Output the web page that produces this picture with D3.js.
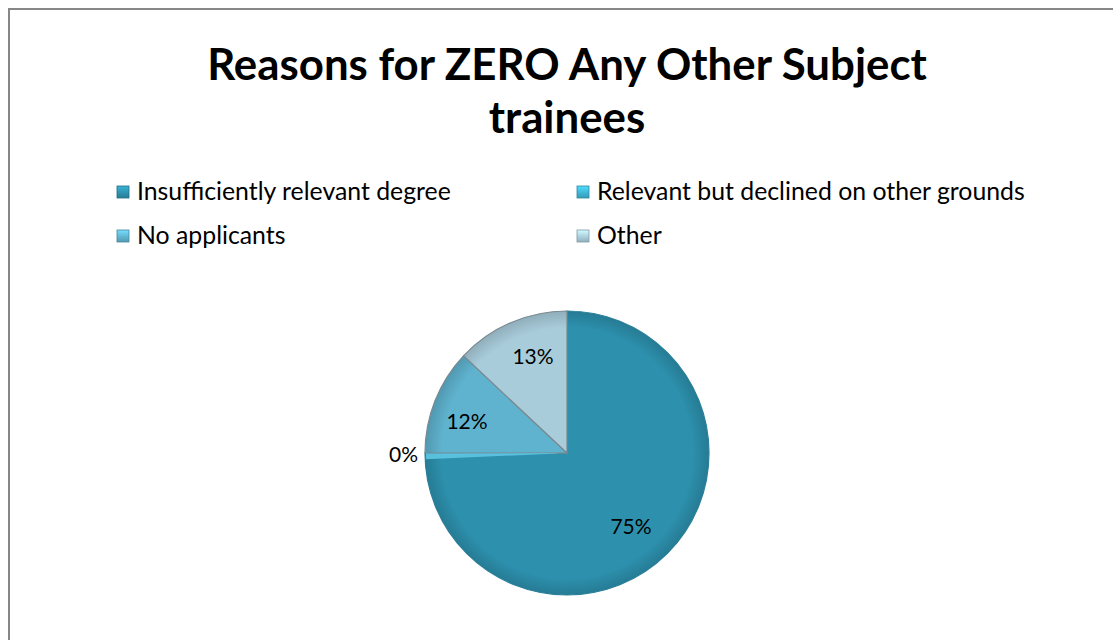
<!DOCTYPE html>
<html><head><meta charset="utf-8">
<script src="https://cdn.jsdelivr.net/npm/d3@7"></script>
<style>html,body{margin:0;padding:0;background:#fff;overflow:hidden}</style>
</head><body>
<script>
const categories = ["Insufficiently relevant degree","Relevant but declined on other grounds","No applicants","Other"];
const values = [75, 0, 12, 13];
const colors = ["#2d91ae","#3fb3d3","#5fb3cf","#a9ccdb"];
const titleLines = ["Reasons for ZERO Any Other Subject","trainees"];

const W=1113,H=640;
const svg=d3.select("body").append("svg").attr("width",W).attr("height",H);
const font="Lato, 'Open Sans', sans-serif";
// frame
svg.append("rect").attr("x",9).attr("y",9).attr("width",W+20).attr("height",H+20)
  .attr("fill","#fff").attr("stroke","#878787").attr("stroke-width",2);

function fitText(sel,target){const w=sel.node().getComputedTextLength();const fs=parseFloat(sel.attr("font-size"));sel.attr("font-size",fs*target/w);}
const t1=svg.append("text").attr("x",567).attr("y",80).attr("text-anchor","middle").attr("font-family",font)
  .attr("font-weight","bold").attr("font-size",40).attr("fill","#000").text(titleLines[0]);
fitText(t1,720);
const t2=svg.append("text").attr("x",567).attr("y",133).attr("text-anchor","middle").attr("font-family",font)
  .attr("font-weight","bold").attr("font-size",t1.attr("font-size")).attr("fill","#000").text(titleLines[1]);

const defs=svg.append("defs");
colors.forEach((c,i)=>{
  const g=defs.append("linearGradient").attr("id","lg"+i).attr("x1",0).attr("y1",0).attr("x2",0).attr("y2",1);
  g.append("stop").attr("offset","0%").attr("stop-color",d3.color(c).brighter(0.6));
  g.append("stop").attr("offset","60%").attr("stop-color",c);
  g.append("stop").attr("offset","100%").attr("stop-color",d3.color(c).darker(0.4));
});
const legPos=[[117,192],[577,192],[117,236],[577,236]];
categories.forEach((c,i)=>{
  const [x,y]=legPos[i];
  svg.append("rect").attr("x",x).attr("y",y-6).attr("width",12).attr("height",12)
    .attr("fill","url(#lg"+i+")").attr("stroke",d3.color(colors[i]).darker(0.8)).attr("stroke-width",0.8);
  svg.append("text").attr("class","leg").attr("x",x+20).attr("y",y+8).attr("font-family",font)
    .attr("font-size",21).attr("fill","#000").text(c);
});
const lt=svg.selectAll("text.leg");
const w0=lt.nodes()[1].getComputedTextLength();
lt.attr("font-size",21*428/w0);

// pie
const cx=567,cy=453,R=142;
const pie=d3.pie().sort(null).value(d=>d).startAngle(0).endAngle(2*Math.PI);
const arcs=pie(values);
const arc=d3.arc().innerRadius(0).outerRadius(R);
colors.forEach((c,i)=>{
  const g=defs.append("radialGradient").attr("id","rg"+i).attr("gradientUnits","userSpaceOnUse")
    .attr("cx",0).attr("cy",0).attr("r",R);
  g.append("stop").attr("offset","0%").attr("stop-color",c);
  g.append("stop").attr("offset","88%").attr("stop-color",c);
  g.append("stop").attr("offset","100%").attr("stop-color",d3.color(c).darker(0.45));
});
const pg=svg.append("g").attr("transform",`translate(${cx},${cy})`);
pg.selectAll("path.slice").data(arcs).join("path").attr("class","slice")
  .attr("d",arc)
  .attr("fill",(d,i)=>"url(#rg"+i+")")
  .attr("stroke",(d,i)=>i===0?"#2a7f99":"#7a8a90").attr("stroke-width",1.2);
// bevel highlight along the zero-width slice
const z=arcs[1];
pg.append("path").attr("d",d3.arc().innerRadius(10).outerRadius(R-1)({startAngle:z.startAngle-0.045,endAngle:z.startAngle-0.004}))
  .attr("fill","#5cc3df").attr("opacity",0.95);
const labelPos=[[631,527,"middle"],[418,455,"end"],[467,422,"middle"],[533,357,"middle"]];
values.forEach((v,i)=>{
  const [x,y,a]=labelPos[i];
  svg.append("text").attr("x",x).attr("y",y+7).attr("text-anchor",a).attr("font-family",font)
    .attr("font-size",21).attr("fill","#000").text(v+"%");
});
</script>
</body></html>
